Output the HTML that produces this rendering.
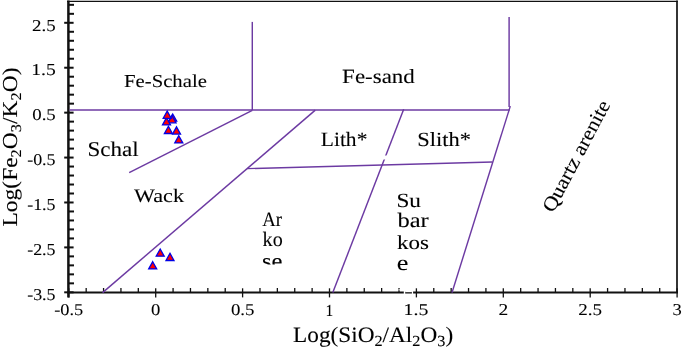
<!DOCTYPE html><html><head><meta charset="utf-8"><style>
html,body{margin:0;padding:0;background:#fff;width:685px;height:351px;overflow:hidden}
svg{display:block;font-family:"Liberation Serif",serif}
svg{will-change:transform}
text{fill:#000;stroke:#000;stroke-width:0.5px}
text{text-rendering:geometricPrecision}
</style></head><body>
<svg width="685" height="351" viewBox="0 0 685 351">
<g stroke="#111" fill="none">
<line x1="67" y1="1.4" x2="677.8" y2="1.4" stroke-width="1.4"/>
<line x1="677" y1="0.5" x2="677" y2="292.6" stroke-width="1.7"/>
<line x1="68.4" y1="0.5" x2="68.4" y2="297.5" stroke-width="2.5"/>
<line x1="67" y1="292.6" x2="678" y2="292.6" stroke-width="2"/>
<line x1="64.2" y1="292.32" x2="73.6" y2="292.32" stroke-width="2"/>
<line x1="68.4" y1="283.34" x2="74" y2="283.34" stroke-width="2"/>
<line x1="68.4" y1="274.35" x2="74" y2="274.35" stroke-width="2"/>
<line x1="68.4" y1="265.37" x2="74" y2="265.37" stroke-width="2"/>
<line x1="68.4" y1="256.38" x2="74" y2="256.38" stroke-width="2"/>
<line x1="64.2" y1="247.40" x2="73.6" y2="247.40" stroke-width="2"/>
<line x1="68.4" y1="238.42" x2="74" y2="238.42" stroke-width="2"/>
<line x1="68.4" y1="229.43" x2="74" y2="229.43" stroke-width="2"/>
<line x1="68.4" y1="220.45" x2="74" y2="220.45" stroke-width="2"/>
<line x1="68.4" y1="211.46" x2="74" y2="211.46" stroke-width="2"/>
<line x1="64.2" y1="202.48" x2="73.6" y2="202.48" stroke-width="2"/>
<line x1="68.4" y1="193.50" x2="74" y2="193.50" stroke-width="2"/>
<line x1="68.4" y1="184.51" x2="74" y2="184.51" stroke-width="2"/>
<line x1="68.4" y1="175.53" x2="74" y2="175.53" stroke-width="2"/>
<line x1="68.4" y1="166.54" x2="74" y2="166.54" stroke-width="2"/>
<line x1="64.2" y1="157.56" x2="73.6" y2="157.56" stroke-width="2"/>
<line x1="68.4" y1="148.58" x2="74" y2="148.58" stroke-width="2"/>
<line x1="68.4" y1="139.59" x2="74" y2="139.59" stroke-width="2"/>
<line x1="68.4" y1="130.61" x2="74" y2="130.61" stroke-width="2"/>
<line x1="68.4" y1="121.62" x2="74" y2="121.62" stroke-width="2"/>
<line x1="64.2" y1="112.64" x2="73.6" y2="112.64" stroke-width="2"/>
<line x1="68.4" y1="103.66" x2="74" y2="103.66" stroke-width="2"/>
<line x1="68.4" y1="94.67" x2="74" y2="94.67" stroke-width="2"/>
<line x1="68.4" y1="85.69" x2="74" y2="85.69" stroke-width="2"/>
<line x1="68.4" y1="76.70" x2="74" y2="76.70" stroke-width="2"/>
<line x1="64.2" y1="67.72" x2="73.6" y2="67.72" stroke-width="2"/>
<line x1="68.4" y1="58.74" x2="74" y2="58.74" stroke-width="2"/>
<line x1="68.4" y1="49.75" x2="74" y2="49.75" stroke-width="2"/>
<line x1="68.4" y1="40.77" x2="74" y2="40.77" stroke-width="2"/>
<line x1="68.4" y1="31.78" x2="74" y2="31.78" stroke-width="2"/>
<line x1="64.2" y1="22.80" x2="73.6" y2="22.80" stroke-width="2"/>
<line x1="68.4" y1="13.82" x2="74" y2="13.82" stroke-width="2"/>
<line x1="68.4" y1="4.83" x2="74" y2="4.83" stroke-width="2"/>
<line x1="68.80" y1="288.3" x2="68.80" y2="297.4" stroke-width="1.3"/>
<line x1="86.18" y1="288" x2="86.18" y2="292.6" stroke-width="1.3"/>
<line x1="103.56" y1="288" x2="103.56" y2="292.6" stroke-width="1.3"/>
<line x1="120.94" y1="288" x2="120.94" y2="292.6" stroke-width="1.3"/>
<line x1="138.32" y1="288" x2="138.32" y2="292.6" stroke-width="1.3"/>
<line x1="155.70" y1="288.3" x2="155.70" y2="297.4" stroke-width="1.3"/>
<line x1="173.08" y1="288" x2="173.08" y2="292.6" stroke-width="1.3"/>
<line x1="190.46" y1="288" x2="190.46" y2="292.6" stroke-width="1.3"/>
<line x1="207.84" y1="288" x2="207.84" y2="292.6" stroke-width="1.3"/>
<line x1="225.22" y1="288" x2="225.22" y2="292.6" stroke-width="1.3"/>
<line x1="242.60" y1="288.3" x2="242.60" y2="297.4" stroke-width="1.3"/>
<line x1="259.98" y1="288" x2="259.98" y2="292.6" stroke-width="1.3"/>
<line x1="277.36" y1="288" x2="277.36" y2="292.6" stroke-width="1.3"/>
<line x1="294.74" y1="288" x2="294.74" y2="292.6" stroke-width="1.3"/>
<line x1="312.12" y1="288" x2="312.12" y2="292.6" stroke-width="1.3"/>
<line x1="329.50" y1="288.3" x2="329.50" y2="297.4" stroke-width="1.3"/>
<line x1="346.88" y1="288" x2="346.88" y2="292.6" stroke-width="1.3"/>
<line x1="364.26" y1="288" x2="364.26" y2="292.6" stroke-width="1.3"/>
<line x1="381.64" y1="288" x2="381.64" y2="292.6" stroke-width="1.3"/>
<line x1="399.02" y1="288" x2="399.02" y2="292.6" stroke-width="1.3"/>
<line x1="416.40" y1="288.3" x2="416.40" y2="297.4" stroke-width="1.3"/>
<line x1="433.78" y1="288" x2="433.78" y2="292.6" stroke-width="1.3"/>
<line x1="451.16" y1="288" x2="451.16" y2="292.6" stroke-width="1.3"/>
<line x1="468.54" y1="288" x2="468.54" y2="292.6" stroke-width="1.3"/>
<line x1="485.92" y1="288" x2="485.92" y2="292.6" stroke-width="1.3"/>
<line x1="503.30" y1="288.3" x2="503.30" y2="297.4" stroke-width="1.3"/>
<line x1="520.68" y1="288" x2="520.68" y2="292.6" stroke-width="1.3"/>
<line x1="538.06" y1="288" x2="538.06" y2="292.6" stroke-width="1.3"/>
<line x1="555.44" y1="288" x2="555.44" y2="292.6" stroke-width="1.3"/>
<line x1="572.82" y1="288" x2="572.82" y2="292.6" stroke-width="1.3"/>
<line x1="590.20" y1="288.3" x2="590.20" y2="297.4" stroke-width="1.3"/>
<line x1="607.58" y1="288" x2="607.58" y2="292.6" stroke-width="1.3"/>
<line x1="624.96" y1="288" x2="624.96" y2="292.6" stroke-width="1.3"/>
<line x1="642.34" y1="288" x2="642.34" y2="292.6" stroke-width="1.3"/>
<line x1="659.72" y1="288" x2="659.72" y2="292.6" stroke-width="1.3"/>
<line x1="677.10" y1="288.3" x2="677.10" y2="297.4" stroke-width="1.3"/>
</g>
<g stroke="#6c3aa2" stroke-width="1.45" fill="none" stroke-linecap="butt">
<line x1="69.5" y1="110.0" x2="509.7" y2="110.0" stroke-width="1.6"/>
<line x1="252.3" y1="21.9" x2="252.3" y2="110"/>
<line x1="509.1" y1="17" x2="509.1" y2="107"/>
<line x1="252.3" y1="110.3" x2="129.2" y2="172.7"/>
<line x1="315.3" y1="110.1" x2="102.6" y2="292.6"/>
<line x1="403.7" y1="109.2" x2="332.8" y2="292.6"/>
<line x1="510.3" y1="106.1" x2="452" y2="292.6"/>
<line x1="247.1" y1="168.6" x2="492.4" y2="162"/>
</g>
<rect x="382" y="155.5" width="5" height="4" fill="#fff"/>
<g fill="#fff"><rect x="403.8" y="290" width="1.4" height="4.5"/><rect x="411.9" y="290" width="1.2" height="4.5"/><rect x="405.2" y="290" width="6.7" height="2.2"/><rect x="398.4" y="289.4" width="2.2" height="0.9"/></g>
<text transform="translate(124.08,87.44) scale(0.2069,0.1817)" font-size="100">Fe-Schale</text>
<text transform="translate(342.11,83.40) scale(0.2297,0.2014)" font-size="100">Fe-sand</text>
<text transform="translate(87.52,156.08) scale(0.2302,0.2085)" font-size="100">Schal</text>
<text transform="translate(134.00,201.72) scale(0.2221,0.1901)" font-size="100">Wack</text>
<text transform="translate(320.75,146.30) scale(0.2153,0.2029)" font-size="100">Lith*</text>
<text transform="translate(417.35,145.90) scale(0.2250,0.2000)" font-size="100">Slith*</text>
<text transform="translate(396.40,206.70) scale(0.2327,0.2000)" font-size="100">Su</text>
<text transform="translate(397.40,227.49) scale(0.2449,0.2071)" font-size="100">bar</text>
<text transform="translate(396.94,249.00) scale(0.2299,0.1971)" font-size="100">kos</text>
<text transform="translate(396.65,270.48) scale(0.2622,0.2188)" font-size="100">e</text>
<defs><clipPath id="ck"><rect x="250" y="200" width="60" height="64.5"/></clipPath></defs>
<g clip-path="url(#ck)">
<text transform="translate(262.21,225.90) scale(0.1875,0.2045)" font-size="100">Ar</text>
<text transform="translate(262.60,246.00) scale(0.2011,0.2043)" font-size="100">ko</text>
<text transform="translate(262.02,267.69) scale(0.2461,0.2104)" font-size="100">se</text>
</g>
<text transform="translate(32.04,30.53) scale(0.1897,0.1672)" font-size="100">2.5</text>
<text transform="translate(31.23,75.45) scale(0.1965,0.1672)" font-size="100">1.5</text>
<text transform="translate(32.24,120.21) scale(0.1881,0.1647)" font-size="100">0.5</text>
<text transform="translate(27.16,165.13) scale(0.1796,0.1647)" font-size="100">-0.5</text>
<text transform="translate(27.16,210.21) scale(0.1796,0.1672)" font-size="100">-1.5</text>
<text transform="translate(27.16,255.13) scale(0.1796,0.1672)" font-size="100">-2.5</text>
<text transform="translate(27.16,300.05) scale(0.1796,0.1672)" font-size="100">-3.5</text>
<text transform="translate(54.15,315.27) scale(0.1836,0.1632)" font-size="100">-0.5</text>
<text transform="translate(151.04,315.27) scale(0.1864,0.1632)" font-size="100">0</text>
<text transform="translate(230.94,315.27) scale(0.1881,0.1632)" font-size="100">0.5</text>
<text transform="translate(325.46,315.60) scale(0.1556,0.1682)" font-size="100">1</text>
<text transform="translate(403.61,315.43) scale(0.1982,0.1657)" font-size="100">1.5</text>
<text transform="translate(498.52,315.43) scale(0.1951,0.1657)" font-size="100">2</text>
<text transform="translate(578.29,315.43) scale(0.1906,0.1657)" font-size="100">2.5</text>
<text transform="translate(672.46,315.43) scale(0.1857,0.1657)" font-size="100">3</text>
<text transform="translate(293.10,341.86) scale(0.2325,0.2211)" font-size="100">Log(SiO<tspan font-size="70" dy="20">2</tspan><tspan dy="-20">/Al</tspan><tspan font-size="70" dy="20">2</tspan><tspan dy="-20">O</tspan><tspan font-size="70" dy="20">3</tspan><tspan dy="-20">)</tspan></text>
<text transform="translate(2.5,225.8) rotate(-90) translate(-0.70,14.72) scale(0.2348,0.2133)" font-size="100">Log(Fe<tspan font-size="70" dy="20">2</tspan><tspan dy="-20">O</tspan><tspan font-size="70" dy="20">3</tspan><tspan dy="-20">/K</tspan><tspan font-size="70" dy="20">2</tspan><tspan dy="-20">O)</tspan></text>
<text transform="translate(553.3,213.5) rotate(-62.2) scale(0.2162,0.2)" font-size="100">Quartz arenite</text>
<g fill="#f00" stroke="#0000e6" stroke-width="1.3" stroke-linejoin="miter">
<polygon points="172.70,114.00 176.70,121.20 168.70,121.20"/>
<polygon points="172.00,115.60 176.00,122.80 168.00,122.80"/>
<polygon points="166.50,117.70 170.50,124.90 162.50,124.90"/>
<polygon points="167.20,111.10 171.20,118.30 163.20,118.30"/>
<polygon points="168.40,126.30 172.40,133.50 164.40,133.50"/>
<polygon points="176.50,126.90 180.50,134.10 172.50,134.10"/>
<polygon points="178.80,135.70 182.80,142.90 174.80,142.90"/>
<polygon points="160.20,249.00 164.20,256.20 156.20,256.20"/>
<polygon points="170.00,253.30 174.00,260.50 166.00,260.50"/>
<polygon points="152.70,261.70 156.70,268.90 148.70,268.90"/>
</g>
</svg></body></html>
